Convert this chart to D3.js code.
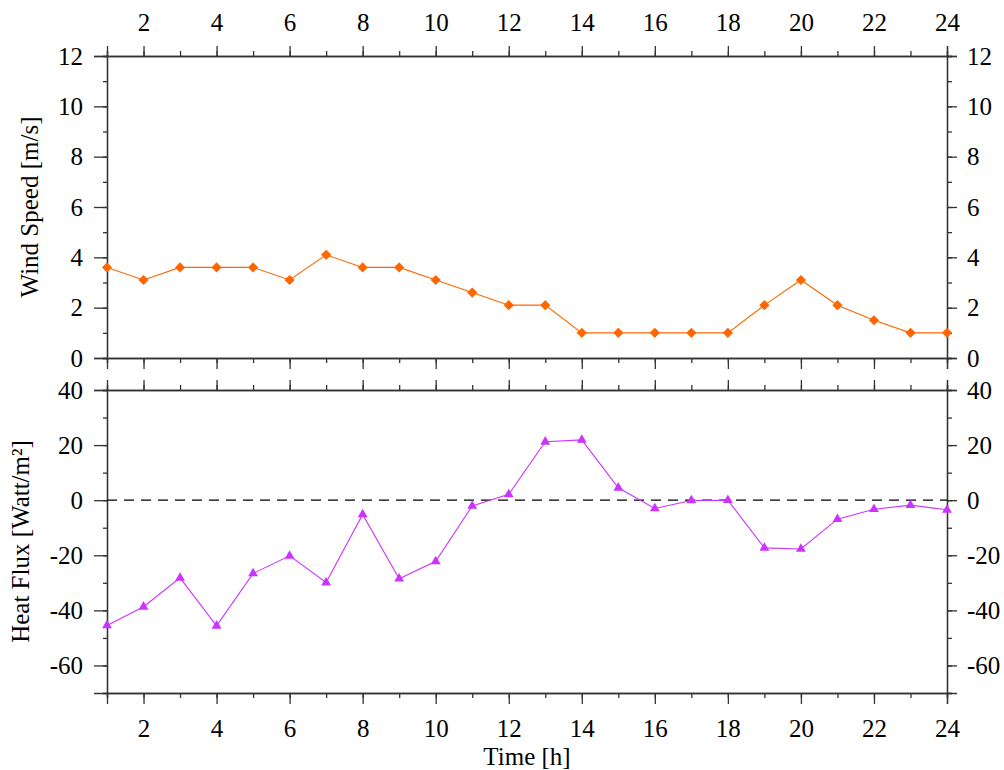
<!DOCTYPE html>
<html>
<head>
<meta charset="utf-8">
<script src="https://cdn.jsdelivr.net/npm/d3@7"></script>
<style>
    body { margin: 0; background: #fff; }
    .axis path, .axis line { stroke: #333; stroke-width: 1.3; }
</style>
</head>
<body>
<svg id="viz"></svg>
<script>
// hours of the day
let hours = [1, 2, 3, 4, 5, 6, 7, 8, 9, 10, 11, 12, 13, 14, 15, 16, 17, 18, 19, 20, 21, 22, 23, 24]
// wind speed in m/s
let windSpeed = [3.6, 3.1, 3.6, 3.6, 3.6, 3.1, 4.1, 3.6, 3.6, 3.1, 2.6, 2.1, 2.1, 1.0, 1.0, 1.0, 1.0, 1.0, 2.1, 3.1, 2.1, 1.5, 1.0, 1.0]
// heat flux in Watt/m2
let heatFlux = [-45.5, -38.7, -28.2, -45.6, -26.6, -20.2, -29.9, -5.2, -28.5, -22.2, -2.1, 2.1, 21.2, 21.9, 4.5, -3.0, -0.1, 0.0, -17.3, -17.7, -6.9, -3.3, -1.8, -3.5]
let xTicks = [2, 4, 6, 8, 10, 12, 14, 16, 18, 20, 22, 24]
let windTicks = [0, 2, 4, 6, 8, 10, 12]
let fluxTicks = [-60, -40, -20, 0, 20, 40]

;(function () {
    let config = {
        width: 1004,
        height: 770,
        left: 107,
        right: 947,
        top: { y0: 56, y1: 358 },
        bottom: { y0: 390, y1: 693 },
        font: '"Liberation Serif", "Times New Roman", Times, serif',
        fontSize: 25,
        orange: '#ff6600',
        purple: '#cc33ff'
    }

    let svg = d3.select('#viz')
        .attr('width', config.width)
        .attr('height', config.height)

    let xScale = d3.scaleLinear().domain([1, 24]).range([config.left, config.right])
    let yWind = d3.scaleLinear().domain([0, 12]).range([config.top.y1, config.top.y0])
    let yFlux = d3.scaleLinear().domain([-70, 40]).range([config.bottom.y1, config.bottom.y0])

    let minorX = d3.range(1, 25)
    // plain hyphen for negatives, like the original
    let fmt = d => String(d)

    function addAxis(axis, transform, withLabels) {
        let g = svg.append('g')
            .attr('class', 'axis')
            .attr('transform', transform)
            .call(axis)
        g.selectAll('text')
            .style('font-family', config.font)
            .style('font-size', config.fontSize + 'px')
            .attr('fill', '#000')
        if (!withLabels) g.selectAll('text').remove()
        return g
    }

    function drawFrame(yScale, yTicks, yMinor, y0, y1, topLabels, bottomLabels) {
        // minor ticks first, then major axes with labels
        addAxis(d3.axisTop(xScale).tickValues(minorX).tickSize(5).tickFormat(''), 'translate(0,' + y0 + ')', false)
        addAxis(d3.axisBottom(xScale).tickValues(minorX).tickSize(5).tickFormat(''), 'translate(0,' + y1 + ')', false)
        addAxis(d3.axisLeft(yScale).tickValues(yMinor).tickSize(4).tickFormat(''), 'translate(' + config.left + ',0)', false)
        addAxis(d3.axisRight(yScale).tickValues(yMinor).tickSize(5).tickFormat(''), 'translate(' + config.right + ',0)', false)

        addAxis(d3.axisTop(xScale).tickValues(xTicks).tickSize(10).tickPadding(15).tickFormat(fmt), 'translate(0,' + y0 + ')', topLabels)
        addAxis(d3.axisBottom(xScale).tickValues(xTicks).tickSize(11).tickPadding(15).tickFormat(fmt), 'translate(0,' + y1 + ')', bottomLabels)
        addAxis(d3.axisLeft(yScale).tickValues(yTicks).tickSize(13).tickPadding(11).tickFormat(fmt), 'translate(' + config.left + ',0)', true)
        addAxis(d3.axisRight(yScale).tickValues(yTicks).tickSize(10).tickPadding(10).tickFormat(fmt), 'translate(' + config.right + ',0)', true)
    }

    drawFrame(yWind, windTicks, d3.range(0, 13, 1), config.top.y0, config.top.y1, true, false)
    drawFrame(yFlux, fluxTicks, d3.range(-70, 41, 10), config.bottom.y0, config.bottom.y1, false, true)

    // zero line in the heat flux panel
    svg.append('line')
        .attr('x1', xScale(1))
        .attr('x2', xScale(24))
        .attr('y1', yFlux(0))
        .attr('y2', yFlux(0))
        .attr('stroke', '#000')
        .attr('stroke-width', 1.2)
        .attr('stroke-dasharray', '10,7')

    let windLine = d3.line().x((d, i) => xScale(hours[i])).y(d => yWind(d))
    let fluxLine = d3.line().x((d, i) => xScale(hours[i])).y(d => yFlux(d))

    svg.append('path')
        .attr('d', windLine(windSpeed))
        .attr('fill', 'none')
        .attr('stroke', config.orange)
        .attr('stroke-width', 1.1)

    svg.append('path')
        .attr('d', fluxLine(heatFlux))
        .attr('fill', 'none')
        .attr('stroke', config.purple)
        .attr('stroke-width', 1.1)

    let diamond = d3.symbol().type(d3.symbolSquare).size(52)
    svg.append('g').selectAll('path')
        .data(windSpeed)
        .join('path')
        .attr('d', diamond)
        .attr('transform', (d, i) => 'translate(' + [xScale(hours[i]), yWind(d)] + ') rotate(45)')
        .attr('fill', config.orange)

    let triangle = d3.symbol().type(d3.symbolTriangle).size(42)
    svg.append('g').selectAll('path')
        .data(heatFlux)
        .join('path')
        .attr('d', triangle)
        .attr('transform', (d, i) => 'translate(' + [xScale(hours[i]), yFlux(d)] + ')')
        .attr('fill', config.purple)

    // axis titles
    function title(transform, label) {
        return svg.append('text')
            .attr('transform', transform)
            .attr('text-anchor', 'middle')
            .style('font-family', config.font)
            .style('font-size', config.fontSize + 'px')
            .text(label)
    }
    title('translate(38,' + (config.top.y0 + config.top.y1) / 2 + ') rotate(-90)', 'Wind Speed [m/s]')
    title('translate(29,' + (config.bottom.y0 + config.bottom.y1) / 2 + ') rotate(-90)', 'Heat Flux [Watt/m²]')
    title('translate(' + (config.left + config.right) / 2 + ',765)', 'Time [h]')
})()
</script>
</body>
</html>
